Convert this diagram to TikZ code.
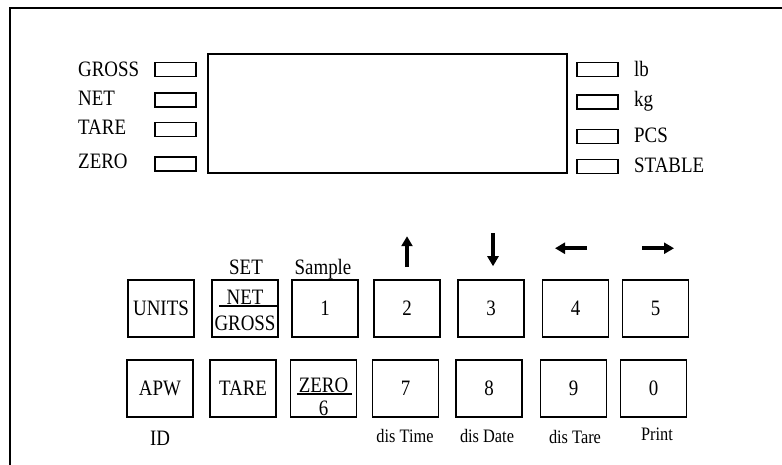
\documentclass[tikz,border=0pt]{standalone}
\usepackage{fontspec}
\setmainfont{Liberation Serif}[FakeStretch=0.86]
\usetikzlibrary{arrows.meta}

\tikzset{
	lamp/.style={draw, line width=1.3pt, minimum width=41pt, minimum height=14pt, inner sep=0pt},
	key/.style={draw, line width=1.5pt, minimum width=66pt, minimum height=57pt, inner sep=0pt, font=\fontsize{22}{22}\selectfont},
	lbl/.style={inner sep=0pt, font=\fontsize{22}{22}\selectfont},
	sublbl/.style={inner sep=0pt, anchor=base, font=\fontsize{19}{19}\selectfont},
	dirarrow/.style={line width=3.6pt, -{Triangle[length=10pt,width=11pt]}}
}

\begin{document}
\begin{tikzpicture}[x=1pt,y=-1pt]
	\useasboundingbox (0,0) rectangle (782,465);
	\draw[line width=1.5pt] (10,465) -- (10,8) -- (782,8);
	\node[draw, line width=1.3pt, minimum width=359pt, minimum height=119pt] (display) at (387.5,113.5) {};
	\foreach \Y/\B/\T [count=\Z] in {69.5/77/GROSS, 100/106/NET, 129.5/135/TARE, 164/169/ZERO}
	{\node[lamp] (ll\Z) at (175.5,\Y) {};
	 \node[lbl, anchor=base west] (lt\Z) at (78,\B) {\T};}
	\foreach \Y/\B/\T [count=\Z] in {69.5/77/lb, 102/107/kg, 136.5/143/PCS, 166.5/173/STABLE}
	{\node[lamp] (rl\Z) at (597.5,\Y) {};
	 \node[lbl, anchor=base west] (rt\Z) at (634,\B) {\T};}
	\foreach \X/\T [count=\Z] in {161/UNITS, 245/{}, 325/1, 407/2, 491/3, 575.5/4, 655.5/5}
	{\node[key] (ka\Z) at (\X,308.5) {\T};}
	\foreach \X/\T [count=\Z] in {160/APW, 243/TARE, 323.5/{}, 405.5/7, 489/8, 573.5/9, 653.5/0}
	{\node[key] (kb\Z) at (\X,388.5) {\T};}
	\node[lbl, anchor=base] (net) at (245,304) {NET};
	\node[lbl, anchor=base] (gross) at (245,330) {GROSS};
	\draw[line width=1.3pt] ([xshift=8pt,yshift=2.5pt]ka2.west) -- ([xshift=-1pt,yshift=2.5pt]ka2.east);
	\node[lbl, anchor=base] (zero) at (323.5,392) {ZERO};
	\node[lbl, anchor=base] (six) at (323.5,415) {6};
	\draw[line width=1.3pt] ([xshift=7pt,yshift=-5.5pt]kb3.west) -- ([xshift=-5pt,yshift=-5.5pt]kb3.east);
	\node[lbl, anchor=base] (set) at (246,274) {SET};
	\node[lbl, anchor=base] (sample) at (323,275) {Sample};
	\node[lbl, anchor=base] (id) at (160,445) {ID};
	\node[sublbl] (distime) at (405,442) {dis Time};
	\node[sublbl] (disdate) at (487,442) {dis Date};
	\node[sublbl] (distare) at (575,443) {dis Tare};
	\node[sublbl] (print) at (657,440) {Print};
	\draw[dirarrow] ([yshift=12pt]ka4.north) -- ([yshift=43pt]ka4.north);
	\draw[dirarrow] ([xshift=2pt,yshift=46pt]ka5.north) -- ([xshift=2pt,yshift=13pt]ka5.north);
	\draw[dirarrow] ([xshift=11.5pt,yshift=31pt]ka6.north) -- ([xshift=-20.5pt,yshift=31pt]ka6.north);
	\draw[dirarrow] ([xshift=-13.5pt,yshift=31pt]ka7.north) -- ([xshift=18.5pt,yshift=31pt]ka7.north);
\end{tikzpicture}
\end{document}
